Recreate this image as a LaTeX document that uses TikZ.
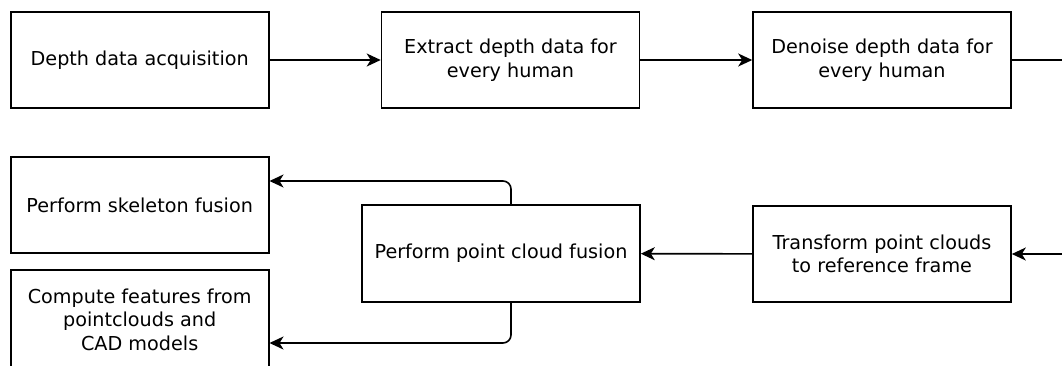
\documentclass[tikz,border=0pt]{standalone}
\usepackage{fontspec}
\setmainfont{DejaVu Sans}
\usetikzlibrary{arrows.meta}
\begin{document}
\begin{tikzpicture}[x=1pt,y=-1pt,
  stepbox/.style={draw=black, line width=1.6pt, fill=white, rectangle,
    minimum width=258pt, minimum height=96pt, inner sep=0pt, align=center,
    font=\fontsize{19.2}{23.6}\selectfont},
  flow/.style={draw=black, line width=1.6pt, rounded corners=8pt,
    -{Stealth[length=14pt,width=13pt,inset=4pt]}}]
  % canvas
  \fill[white] (0,0) rectangle (1062,365);
  \useasboundingbox (0,0) rectangle (1062,365);

  % top row
  \node[stepbox] (acq) at (139.7,60) {Depth data acquisition};
  \node[stepbox] (ext) at (510.5,60) {Extract depth data for\\every human};
  \node[stepbox] (den) at (882,60) {Denoise depth data for\\every human};

  % bottom row
  \node[stepbox] (tra) at (882,254) {Transform point clouds\\to reference frame};
  \node[stepbox, minimum width=278pt, minimum height=97pt] (pcf) at (501,253.5) {Perform point cloud fusion};
  \node[stepbox] (ske) at (139.7,205) {Perform skeleton fusion};
  \node[stepbox, minimum height=99pt] (cad) at (139.7,319.5) {Compute features from\\pointclouds and\\CAD models};

  % turn-around on the right edge
  \coordinate (turnA) at (1090,60);
  \coordinate (turnB) at (1090,254);

  % connectors
  \draw[flow] (acq) -- (ext);
  \draw[flow] (ext) -- (den);
  \draw[flow] (den.east) -- (turnA) -- (turnB) -- (tra.east);
  \draw[flow] (tra) -- (pcf);
  \draw[flow] ([xshift=10pt]pcf.north) |- ([yshift=24pt]ske.east);
  \draw[flow] ([xshift=10pt]pcf.south) |- ([yshift=-23.5pt]cad.east);
\end{tikzpicture}
\end{document}
